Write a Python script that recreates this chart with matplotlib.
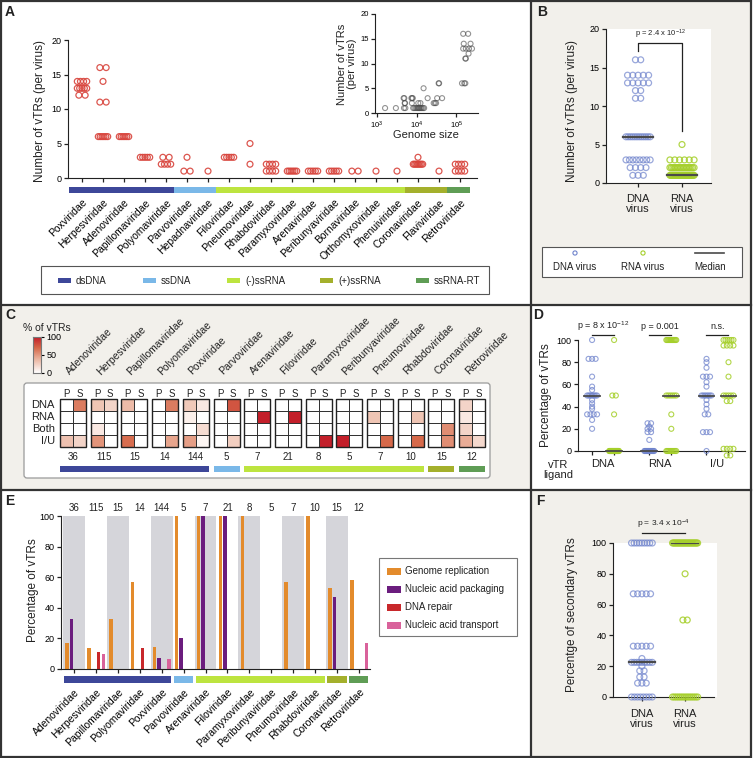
import numpy as np
import matplotlib.pyplot as plt
from matplotlib.patches import Rectangle, FancyBboxPatch
from matplotlib.colors import LinearSegmentedColormap

plt.rcParams['font.family'] = ['Liberation Sans', 'DejaVu Sans']
plt.rcParams['mathtext.fontset'] = 'custom'
plt.rcParams['mathtext.rm'] = 'Liberation Sans'
plt.rcParams['mathtext.it'] = 'Liberation Sans'
plt.rcParams['text.color'] = '#222222'
plt.rcParams['axes.edgecolor'] = '#222222'

# ---------------- data ----------------
a_families = ['Poxviridae', 'Herpesviridae', 'Adenoviridae', 'Papillomaviridae',
              'Polyomaviridae', 'Parvoviridae', 'Hepadnaviridae', 'Filoviridae',
              'Pneumoviridae', 'Rhabdoviridae', 'Paramyxoviridae', 'Arenaviridae',
              'Peribunyaviridae', 'Bornaviridae', 'Orthomyxoviridae', 'Phenuiviridae',
              'Coronaviridae', 'Flaviviridae', 'Retroviridae']
a_class = ['dsDNA'] * 5 + ['ssDNA'] * 2 + ['(-)ssRNA'] * 9 + ['(+)ssRNA'] * 2 + ['ssRNA-RT']
a_vtrs = [
    [14, 14, 14, 14, 13, 13, 13, 13, 13, 12, 12],
    [16, 16, 14, 11, 11, 6, 6, 6, 6, 6, 6],
    [6, 6, 6, 6, 6, 6],
    [3, 3, 3, 3, 3],
    [3, 3, 2, 2, 2, 2],
    [3, 1, 1],
    [1],
    [3, 3, 3, 3, 3],
    [5, 2],
    [2, 2, 2, 2, 1, 1, 1, 1],
    [1, 1, 1, 1, 1, 1],
    [1, 1, 1, 1, 1],
    [1, 1, 1, 1, 1],
    [1, 1],
    [1],
    [1],
    [3, 2, 2, 2, 2, 2, 2, 2, 2],
    [1],
    [2, 2, 2, 2, 1, 1, 1, 1],
]

g_size = [1600, 3000, 4700, 4900, 5100, 5000, 5200, 4800, 7400, 7700, 8000, 7600,
          8200, 8800, 9500, 10200, 10800, 11500, 12000, 12800, 13500, 14500, 15500,
          11000, 12500, 15000, 19000, 27000, 29000, 31000, 33000, 36000, 37000, 44000,
          150000, 200000, 155000, 230000, 150000, 175000, 210000, 250000, 205000,
          170000, 175000, 140000, 160000, 170000]
g_vtrs = [1, 1, 3, 3, 2, 2, 1, 1, 3, 3, 3, 2,
          1, 1, 1, 1, 1, 1, 1, 1, 1, 1, 1,
          2, 2, 5, 3, 2, 2, 2, 3, 6, 6, 3,
          16, 16, 14, 14, 13, 13, 13, 13, 12,
          11, 11, 6, 6, 6]

b_groups = ['DNA\nvirus', 'RNA\nvirus']

c_families = ['Adenoviridae', 'Herpesviridae', 'Papillomaviridae', 'Polyomaviridae',
              'Poxviridae', 'Parvoviridae', 'Arenaviridae', 'Filoviridae',
              'Paramyxoviridae', 'Peribunyaviridae', 'Pneumoviridae', 'Rhabdoviridae',
              'Coronaviridae', 'Retroviridae']
c_counts = [36, 115, 15, 14, 144, 5, 7, 21, 8, 5, 7, 10, 15, 12]
c_class = ['dsDNA'] * 5 + ['ssDNA'] + ['(-)ssRNA'] * 6 + ['(+)ssRNA', 'ssRNA-RT']
c_rows = ['DNA', 'RNA', 'Both', 'I/U']
# % of vTRs per family, rows DNA/RNA/Both/I-U, columns P/S
c_pct = [
    [[0, 62], [0, 0], [0, 0], [32, 22]],
    [[30, 22], [0, 0], [12, 0], [52, 0]],
    [[35, 0], [0, 0], [0, 0], [68, 0]],
    [[0, 62], [0, 0], [0, 0], [0, 45]],
    [[28, 12], [8, 0], [0, 18], [48, 5]],
    [[0, 78], [0, 0], [0, 0], [0, 25]],
    [[0, 0], [0, 100], [0, 0], [0, 0]],
    [[0, 0], [0, 100], [0, 0], [0, 0]],
    [[0, 0], [0, 0], [0, 0], [0, 100]],
    [[0, 0], [0, 0], [0, 0], [100, 0]],
    [[0, 0], [30, 0], [0, 0], [0, 70]],
    [[0, 0], [0, 30], [0, 0], [0, 70]],
    [[0, 0], [0, 0], [0, 55], [0, 55]],
    [[22, 0], [12, 0], [22, 0], [42, 20]],
]

d_groups = ['DNA', 'RNA', 'I/U']
d_dna_virus = [
    [100, 83, 83, 83, 67, 58, 55, 50, 50, 50, 50, 50, 50, 50, 50, 46, 43, 40, 38,
     33, 33, 33, 33, 28, 20],
    [25, 25, 22, 20, 20, 17, 17, 10] + [0] * 16,
    [83, 80, 75, 67, 67, 67, 62, 58, 50, 50, 50, 50, 50, 50, 50, 46, 42, 38, 33, 33,
     17, 17, 17, 0],
]
d_rna_virus = [
    [100, 50, 50, 33] + [0] * 20,
    [100] * 12 + [50] * 6 + [33, 20] + [0] * 10,
    [100] * 6 + [95] * 4 + [80, 67] + [50] * 5 + [45, 45] + [2] * 4 + [-4] * 2,
]
d_pvals = ['p = 8 x 10$^{-12}$', 'p = 0.001', 'n.s.']

e_genome = [17, 14, 33, 57, 14.5, 100, 100, 100, 100, 0, 57, 100, 53, 58]
e_packaging = [33, 0, 0, 0, 7.5, 20, 100, 100, 0, 0, 0, 0, 47, 0]
e_repair = [0, 11, 0, 14, 0, 0, 0, 0, 0, 0, 0, 0, 0, 0]
e_transport = [0, 9.5, 0, 0, 6.5, 0, 0, 0, 0, 0, 0, 0, 0, 17]
e_labels = ['Genome replication', 'Nucleic acid packaging', 'DNA repair',
            'Nucleic acid transport']

f_dna = [100] * 9 + [67] * 5 + [33] * 5 + [25] + [22.5] * 9 + [20] + [17] * 2 + \
        [13] * 2 + [9] * 3 + [0] * 8
f_rna = [100] * 26 + [80] + [50] * 2 + [0] * 14
f_medians = [22.5, 100]

class_names = ['dsDNA', 'ssDNA', '(-)ssRNA', '(+)ssRNA', 'ssRNA-RT']
class_colors = ['#3d4799', '#7ab8e8', '#bde43f', '#a4b02c', '#5f9d55']
e_colors = ['#e38b2c', '#6b1d7e', '#c8282b', '#d9629b']
BLUE, GREEN, RED = '#6f83cc', '#a5cf2a', '#d8443c'
BEIGE = '#f2f0eb'

# ---------------- helpers ----------------
W, H = 754, 758
fig = plt.figure(figsize=(W / 100, H / 100), dpi=100)


def px_axes(x0, y0, x1, y1):
    return fig.add_axes([x0 / W, 1 - y1 / H, (x1 - x0) / W, (y1 - y0) / H])


def style(ax, fs=6.5):
    for sp in ['top', 'right']:
        ax.spines[sp].set_visible(False)
    ax.set_facecolor('none')
    ax.tick_params(labelsize=fs, length=3, width=0.9, pad=1.5, color='#222222')


def swarm(ax, x0, vals, step, maxw, color, s, lw=0.8, alpha=0.85):
    vals = np.asarray(vals, dtype=float)
    xs, ys = [], []
    for v in np.unique(vals):
        n = int((vals == v).sum())
        st = step if n < 2 else min(step, maxw / (n - 1))
        xs.extend(x0 + (np.arange(n) - (n - 1) / 2) * st)
        ys.extend([v] * n)
    ax.scatter(xs, ys, s=s, facecolors='none', edgecolors=color,
               linewidths=lw, alpha=alpha, clip_on=False, zorder=3)


def class_bars(ax, classes, y0, h, lo, hi):
    for name, col in zip(class_names, class_colors):
        idx = [i for i, c in enumerate(classes) if c == name]
        ax.add_patch(Rectangle((idx[0] + lo, y0), idx[-1] - idx[0] + hi - lo, h,
                               transform=ax.get_xaxis_transform(), color=col,
                               clip_on=False, lw=0))


bg = px_axes(0, 0, W, H)
bg.set_xlim(0, W)
bg.set_ylim(H, 0)
bg.axis('off')

# panel backgrounds
for (x0, y0, x1, y1, c) in [(1, 1, 531, 305, 'white'), (531, 1, 751, 305, BEIGE),
                            (1, 305, 531, 490, BEIGE), (531, 305, 751, 490, 'white'),
                            (1, 490, 531, 757, 'white'), (531, 490, 751, 757, BEIGE)]:
    bg.add_patch(Rectangle((x0, y0), x1 - x0, y1 - y0, color=c, lw=0, zorder=0))
bg.add_patch(Rectangle((606, 29), 105, 154, color='white', lw=0, zorder=0.5))
bg.add_patch(Rectangle((613, 543), 104, 154, color='white', lw=0, zorder=0.5))
# borders
bg.add_patch(Rectangle((1, 1), 750, 756, fill=False, ec='#333333', lw=1.6, zorder=5))
bg.plot([531, 531], [1, 757], color='#333333', lw=1.6, zorder=5)
bg.plot([1, 751], [305, 305], color='#333333', lw=1.6, zorder=5)
bg.plot([1, 751], [490, 490], color='#333333', lw=1.6, zorder=5)

for lab, x, y in [('A', 10, 12), ('B', 542, 12), ('C', 10, 315), ('D', 538, 315),
                  ('E', 10, 501), ('F', 540, 501)]:
    bg.text(x, y, lab, fontsize=10, fontweight='bold', ha='center', va='center')

# ---------------- panel A ----------------
axa = px_axes(68, 40, 477, 178)
style(axa)
axa.set_xlim(-0.667, 18.81)
axa.set_ylim(0, 20)
axa.set_yticks([0, 5, 10, 15, 20])
for i, v in enumerate(a_vtrs):
    swarm(axa, i, v, 0.3, 0.45, RED, 18, lw=0.9, alpha=0.9)
axa.set_xticks(range(len(a_families)))
axa.set_xticklabels(a_families, rotation=45, ha='right', va='top',
                    rotation_mode='anchor', fontsize=7.5)
axa.tick_params(axis='x', pad=11)
class_bars(axa, a_class, -0.109, 0.044, -0.6, 0.5)
bg.text(40, 111, 'Number of vTRs (per virus)', rotation=90, fontsize=8.5,
        ha='center', va='center')

# legend box for classes
bg.add_patch(Rectangle((41, 266), 448, 28, fc='white', ec='#555555', lw=0.8, zorder=1))
for name, col, x in zip(class_names, class_colors, [58, 143, 227, 320, 416]):
    bg.add_patch(Rectangle((x, 277.5), 13, 5.5, color=col, lw=0, zorder=2))
    bg.text(x + 18, 280.5, name, fontsize=7, va='center', ha='left')

# inset
axi = px_axes(375, 14, 478, 113)
style(axi, fs=5.5)
axi.set_xscale('log')
axi.set_xlim(10 ** 2.95, 10 ** 5.55)
axi.set_ylim(0, 20)
axi.set_xticks([1e3, 1e4, 1e5])
axi.minorticks_off()
axi.set_yticks([0, 5, 10, 15, 20])
axi.scatter(g_size, g_vtrs, s=13, facecolors='none', edgecolors='#4a4a4a',
            linewidths=0.8, alpha=0.6, clip_on=False, zorder=3)
bg.text(426, 135, 'Genome size', fontsize=8, ha='center', va='center')
bg.text(347, 64, 'Number of vTRs\n(per virus)', fontsize=8, rotation=90,
        ha='center', va='center', linespacing=1.05)

# ---------------- panel B ----------------
b_dna = [v for fam in a_vtrs[:7] for v in fam]
b_rna = [v for fam in a_vtrs[7:] for v in fam]
axb = px_axes(606, 29, 711, 183)
style(axb)
axb.set_xlim(-0.73, 1.66)
axb.set_ylim(0, 20)
axb.set_yticks([0, 5, 10, 15, 20])
axb.set_xticks([0, 1])
axb.set_xticklabels([])
swarm(axb, 0, b_dna, 0.12, 0.55, BLUE, 18, lw=0.9, alpha=0.7)
swarm(axb, 1, b_rna, 0.12, 0.55, GREEN, 18, lw=0.9, alpha=0.85)
for x, vals in zip([0, 1], [b_dna, b_rna]):
    m = np.median(vals)
    axb.plot([x - 0.34, x + 0.34], [m, m], color='#4a4a4a', lw=1.6, zorder=4)
for x, lab in zip([0, 1], b_groups):
    axb.text(x, -0.135, lab, transform=axb.get_xaxis_transform(), ha='center',
             va='center', fontsize=8, linespacing=1.0)
axb.plot([0, 0, 1, 1], [17.1, 18.2, 18.2, 6.8], color='#222222', lw=0.9, clip_on=False)
axb.text(0.5, 19.3, 'p = 2.4 x 10$^{-12}$', fontsize=5.5, ha='center', va='center')
bg.text(572, 111, 'Number of vTRs (per virus)', rotation=90, fontsize=8.5,
        ha='center', va='center')

# B legend
bg.add_patch(Rectangle((542, 247), 200, 30, fc='white', ec='#555555', lw=0.8, zorder=1))
bg.scatter([575], [253], s=9, facecolors='none', edgecolors=BLUE, linewidths=0.8, zorder=3)
bg.scatter([643], [253], s=9, facecolors='none', edgecolors=GREEN, linewidths=0.8, zorder=3)
bg.plot([695, 724], [253, 253], color='#4a4a4a', lw=1.2, zorder=3)
for x, t in [(575, 'DNA virus'), (643, 'RNA virus'), (710, 'Median')]:
    bg.text(x, 267, t, fontsize=7, ha='center', va='center')

# ---------------- panel C ----------------
cmap = LinearSegmentedColormap.from_list(
    'vtr', [(0, '#ffffff'), (0.4, '#eab19b'), (0.7, '#d6694a'), (1, '#c31f2a')])
bg.add_patch(FancyBboxPatch((24, 383), 466, 95, boxstyle='round,pad=0,rounding_size=3',
                            fc='white', ec='#9a9a9a', lw=0.9, zorder=1))
axc = px_axes(60, 399, 485, 447)
axc.set_xlim(0, 425 / 13)
axc.set_ylim(4, 0)
axc.axis('off')
step = 30.7 / 13
for i, fam in enumerate(c_families):
    x0 = i * step
    arr = np.array(c_pct[i], dtype=float)
    axc.pcolormesh([x0, x0 + 1, x0 + 2], [0, 1, 2, 3, 4], arr, cmap=cmap, vmin=0,
                   vmax=100, edgecolors='#333333', linewidth=0.6)
    axc.add_patch(Rectangle((x0, 0), 2, 4, fill=False, ec='#222222', lw=1.0, clip_on=False))
    axc.text(x0 + 0.5, -0.18, 'P', fontsize=7, ha='center', va='baseline')
    axc.text(x0 + 1.5, -0.18, 'S', fontsize=7, ha='center', va='baseline')
    axc.text(x0 + 1.0, 4.8, str(c_counts[i]), fontsize=7, ha='center', va='center')
    axc.text(x0 + 0.85, -1.85, fam, fontsize=7.5, rotation=45, ha='left', va='bottom',
             rotation_mode='anchor')
for r, lab in enumerate(c_rows):
    axc.text(-0.4, r + 0.5, lab, fontsize=8, ha='right', va='center')
for name, col in zip(class_names, class_colors):
    idx = [i for i, c in enumerate(c_class) if c == name]
    axc.add_patch(Rectangle((idx[0] * step, 5.58), idx[-1] * step + 2 - idx[0] * step, 0.5,
                            color=col, lw=0, clip_on=False))

axcb = px_axes(33, 337, 41, 373)
axcb.imshow(np.linspace(100, 0, 100)[:, None], aspect='auto', cmap=cmap, vmin=0,
            vmax=100, extent=[0, 1, 0, 100])
axcb.set_xticks([])
axcb.yaxis.tick_right()
axcb.set_yticks([0, 50, 100])
axcb.tick_params(labelsize=6.5, length=2, pad=2)
for sp in axcb.spines.values():
    sp.set_color('#777777')
bg.text(23, 328, '% of vTRs', fontsize=7.5, ha='left', va='center')

# ---------------- panel D ----------------
axd = px_axes(578, 340, 745, 451)
style(axd)
dpos = [[0, 1], [2.6, 3.6], [5.2, 6.2]]
axd.set_xlim(-0.64, 6.95)
axd.set_ylim(0, 100)
axd.set_yticks([0, 20, 40, 60, 80, 100])
axd.set_xticks([p for pair in dpos for p in pair])
axd.set_xticklabels([])
for k in range(3):
    (xb, xg) = dpos[k]
    swarm(axd, xb, d_dna_virus[k], 0.16, 0.45, BLUE, 13, lw=0.8, alpha=0.75)
    swarm(axd, xg, d_rna_virus[k], 0.16, 0.45, GREEN, 13, lw=0.8, alpha=0.85)
    for x, vals in [(xb, d_dna_virus[k]), (xg, d_rna_virus[k])]:
        m = np.median(vals)
        axd.plot([x - 0.36, x + 0.36], [m, m], color='#4a4a4a', lw=1.3, zorder=4,
                 clip_on=False)
    axd.plot([xb, xg], [104.5, 104.5], color='#222222', lw=0.9, clip_on=False)
    axd.text((xb + xg) / 2, 112.6, d_pvals[k], fontsize=6.5, ha='center', va='center')
    axd.text((xb + xg) / 2, -0.12, d_groups[k], transform=axd.get_xaxis_transform(),
             fontsize=8, ha='center', va='center')
bg.text(546, 395, 'Percentage of vTRs', rotation=90, fontsize=8.5, ha='center',
        va='center')
bg.text(558, 470, 'vTR\nligand', fontsize=8, ha='center', va='center', linespacing=1.1)

# ---------------- panel E ----------------
axe = px_axes(61, 516, 370, 669)
style(axe)
ex = np.arange(len(c_families))
axe.set_xlim(-0.59, 13.5)
axe.set_ylim(0, 100)
axe.set_yticks([0, 20, 40, 60, 80, 100])
for i in range(0, len(c_families), 2):
    axe.axvspan(i - 0.5, i + 0.5, color='#d5d5da', lw=0, zorder=0)
offs = [-0.32, -0.11, 0.12, 0.34]
for k, vals in enumerate([e_genome, e_packaging, e_repair, e_transport]):
    axe.bar(ex + offs[k], vals, width=0.16, color=e_colors[k], zorder=2, lw=0)
axe.set_xticks(ex)
axe.set_xticklabels(c_families, rotation=45, ha='right', va='top',
                    rotation_mode='anchor', fontsize=7.5)
axe.tick_params(axis='x', pad=10)
for i, c in enumerate(c_counts):
    axe.text(i, 1.052, str(c), transform=axe.get_xaxis_transform(), ha='center',
             va='center', fontsize=7)
class_bars(axe, c_class, -0.0915, 0.0455, -0.45, 0.43)
bg.text(33, 590, 'Percentage of vTRs', rotation=90, fontsize=8.5, ha='center',
        va='center')

bg.add_patch(Rectangle((379, 558), 138, 78, fc='white', ec='#777777', lw=0.8, zorder=1))
for k, (lab, col) in enumerate(zip(e_labels, e_colors)):
    y = 571 + 18 * k
    bg.add_patch(Rectangle((387, y - 3.5), 14, 7, color=col, lw=0, zorder=2))
    bg.text(405, y, lab, fontsize=7, ha='left', va='center')

# ---------------- panel F ----------------
axf = px_axes(613, 543, 714, 697)
style(axf)
axf.set_xlim(-0.67, 1.67)
axf.set_ylim(0, 100)
axf.set_yticks([0, 20, 40, 60, 80, 100])
axf.set_xticks([0, 1])
axf.set_xticklabels([])
swarm(axf, 0, f_dna, 0.1, 0.48, BLUE, 18, lw=0.9, alpha=0.7)
swarm(axf, 1, f_rna, 0.1, 0.58, GREEN, 18, lw=0.9, alpha=0.85)
for x, m in zip([0, 1], f_medians):
    axf.plot([x - 0.3, x + 0.3], [m, m], color='#4a4a4a', lw=1.6, zorder=4)
for x, lab in zip([0, 1], b_groups):
    axf.text(x, -0.14, lab, transform=axf.get_xaxis_transform(), ha='center',
             va='center', fontsize=8, linespacing=1.0)
axf.plot([0, 1], [106.5, 106.5], color='#222222', lw=0.9, clip_on=False)
axf.text(0.5, 112.3, 'p = 3.4 x 10$^{-4}$', fontsize=6, ha='center', va='center')
bg.text(572, 615, 'Percentge of secondary vTRs', rotation=90, fontsize=8.5,
        ha='center', va='center')

fig.savefig('out.png', dpi=100)
